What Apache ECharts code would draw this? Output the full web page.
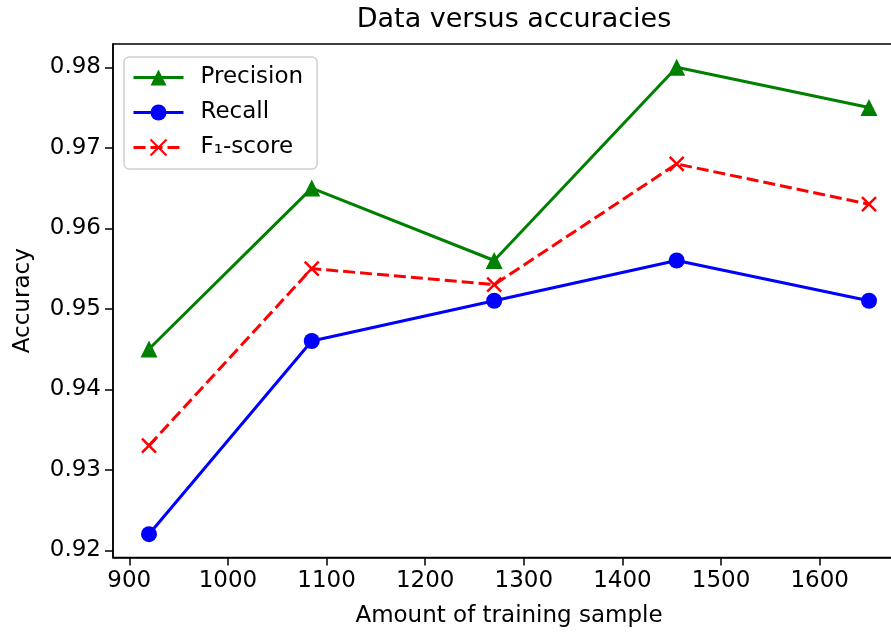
<!DOCTYPE html>
<html>
<head>
<meta charset="utf-8">
<style>
  html, body { margin: 0; padding: 0; background: #fff; }
  #chart { width: 891px; height: 632px; }
</style>
<script src="https://cdn.jsdelivr.net/npm/echarts@6/dist/echarts.min.js"></script>
</head>
<body>
<div id="chart"></div>
<script>
const sampleSizes = [920, 1085, 1270, 1455, 1650];
const precision = [0.945, 0.965, 0.956, 0.980, 0.975];
const recall = [0.922, 0.946, 0.951, 0.956, 0.951];
const f1score = [0.933, 0.955, 0.953, 0.968, 0.963];
const xTicks = [900, 1000, 1100, 1200, 1300, 1400, 1500, 1600];
const yTicks = [0.92, 0.93, 0.94, 0.95, 0.96, 0.97, 0.98];

const font = 'DejaVu Sans';
const toPairs = (ys) => sampleSizes.map((x, i) => [x, ys[i]]);

const chart = echarts.init(document.getElementById('chart'), null, { renderer: 'canvas' });

chart.setOption({
  animation: false,
  backgroundColor: '#fff',
  title: {
    text: 'Data versus accuracies',
    left: 509,
    top: 1,
    textAlign: 'center',
    textStyle: { fontFamily: font, fontSize: 27, fontWeight: 'normal', color: '#000' }
  },
  legend: {
    orient: 'vertical',
    left: 124,
    top: 57,
    padding: [9, 14, 10, 8],
    itemWidth: 50,
    itemHeight: 20,
    itemGap: 12,
    borderColor: '#d0d0d0',
    borderWidth: 1.5,
    borderRadius: 5,
    backgroundColor: 'rgba(255,255,255,0.8)',
    lineStyle: { width: 3 },
    textStyle: { fontFamily: font, fontSize: 23, color: '#000', padding: [0, 0, 0, 12] },
    data: ['Precision', 'Recall', 'F₁-score']
  },
  grid: {
    left: 113,
    top: 44,
    right: -14,
    bottom: 74.5,
    show: true,
    borderColor: '#000',
    borderWidth: 1.5,
    containLabel: false,
    outerBoundsMode: 'none'
  },
  xAxis: {
    type: 'value',
    min: 883.5,
    max: 1686.5,
    name: 'Amount of training sample',
    nameLocation: 'middle',
    nameGap: 47,
    nameTextStyle: { fontFamily: font, fontSize: 23, color: '#000' },
    splitLine: { show: false },
    axisLine: { show: true, lineStyle: { color: '#000', width: 1.5 } },
    axisTick: { show: true, length: 8, lineStyle: { color: '#000', width: 1.5 }, customValues: xTicks },
    axisLabel: {
      fontFamily: font, fontSize: 23, color: '#000', margin: 12,
      customValues: xTicks,
      formatter: (v) => String(v)
    }
  },
  yAxis: {
    type: 'value',
    min: 0.9191,
    max: 0.9829,
    name: 'Accuracy',
    nameLocation: 'middle',
    nameGap: 78,
    nameTextStyle: { fontFamily: font, fontSize: 23, color: '#000' },
    splitLine: { show: false },
    axisLine: { show: true, lineStyle: { color: '#000', width: 1.5 } },
    axisTick: { show: true, length: 8, lineStyle: { color: '#000', width: 1.5 }, customValues: yTicks },
    axisLabel: {
      fontFamily: font, fontSize: 23, color: '#000', margin: 12,
      customValues: yTicks,
      formatter: (v) => v.toFixed(2)
    }
  },
  series: [
    {
      name: 'Precision',
      type: 'line',
      data: toPairs(precision),
      symbol: 'triangle',
      symbolSize: 17,
      lineStyle: { color: '#008000', width: 3 },
      itemStyle: { color: '#008000' }
    },
    {
      name: 'Recall',
      type: 'line',
      data: toPairs(recall),
      symbol: 'circle',
      symbolSize: 16,
      lineStyle: { color: '#0000ff', width: 3 },
      itemStyle: { color: '#0000ff' }
    },
    {
      name: 'F₁-score',
      type: 'line',
      data: toPairs(f1score),
      symbol: 'path://M0,0L10,10M10,0L0,10',
      symbolSize: 14,
      lineStyle: { color: '#ff0000', width: 3, type: [12, 5] },
      itemStyle: { color: 'none', borderColor: '#ff0000', borderWidth: 2.5 }
    }
  ]
});
</script>
</body>
</html>
